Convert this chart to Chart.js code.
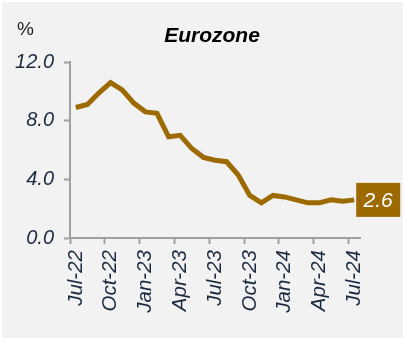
<!DOCTYPE html>
<html>
<head>
<meta charset="utf-8">
<script src="https://cdn.jsdelivr.net/npm/chart.js@4/dist/chart.umd.min.js"></script>
<style>
    html, body { margin: 0; padding: 0; background: #ffffff; }
    .panel {
        position: absolute;
        left: 2px; top: 2px;
        width: 401px; height: 336px;
        background: #f2f2f2;
    }
    .wrap {
        position: absolute;
        left: 0; top: 0;
        width: 403px; height: 338px;
    }
</style>
</head>
<body>
<div class="panel"></div>
<div class="wrap"><canvas id="cpiChart" width="403" height="338"></canvas></div>
<script>
// Monthly headline inflation, y/y %
const months = [
    'Jul-22', 'Aug-22', 'Sep-22', 'Oct-22', 'Nov-22', 'Dec-22',
    'Jan-23', 'Feb-23', 'Mar-23', 'Apr-23', 'May-23', 'Jun-23',
    'Jul-23', 'Aug-23', 'Sep-23', 'Oct-23', 'Nov-23', 'Dec-23',
    'Jan-24', 'Feb-24', 'Mar-24', 'Apr-24', 'May-24', 'Jun-24', 'Jul-24'
];
const inflation = [
    8.9, 9.1, 9.9, 10.6, 10.1, 9.2,
    8.6, 8.5, 6.9, 7.0, 6.1, 5.5,
    5.3, 5.2, 4.3, 2.9, 2.4, 2.9,
    2.8, 2.6, 2.4, 2.4, 2.6, 2.5, 2.6
];
const yTicks = [0, 4, 8, 12];

const lineColor = '#9c6a00';
const axisColor = '#a0a0a0';
const labelColor = '#1c2a40';
const fontFamily = '"Liberation Sans", Arial, sans-serif';

// title, unit and the end-value tag
const decorations = {
    id: 'decorations',
    afterDatasetsDraw(chart) {
        const { ctx, chartArea } = chart;
        ctx.save();

        ctx.fillStyle = '#000000';
        ctx.font = 'italic bold 21px ' + fontFamily;
        ctx.textAlign = 'center';
        ctx.textBaseline = 'middle';
        ctx.fillText('Eurozone', (chartArea.left + chartArea.right) / 2 - 3, 36);

        ctx.fillStyle = '#222222';
        ctx.font = '19px ' + fontFamily;
        ctx.textAlign = 'left';
        ctx.fillText('%', 17, 30);

        const points = chart.getDatasetMeta(0).data;
        const last = points[points.length - 1];
        const value = inflation[inflation.length - 1];
        ctx.fillStyle = lineColor;
        ctx.fillRect(last.x + 2, last.y - 17, 44, 34);
        ctx.fillStyle = '#ffffff';
        ctx.font = 'italic 21px ' + fontFamily;
        ctx.textAlign = 'center';
        ctx.fillText(value.toFixed(1), last.x + 24, last.y + 1);

        ctx.restore();
    }
};

new Chart(document.getElementById('cpiChart'), {
    type: 'line',
    data: {
        labels: months,
        datasets: [{
            data: inflation,
            borderColor: lineColor,
            borderWidth: 5,
            pointRadius: 0,
            tension: 0,
            fill: false
        }]
    },
    options: {
        responsive: false,
        animation: false,
        layout: { padding: { top: 62, right: 43, left: 0, bottom: 0 } },
        plugins: {
            legend: { display: false },
            tooltip: { enabled: false }
        },
        scales: {
            x: {
                type: 'category',
                offset: true,
                afterFit: (scale) => { scale.height = 100; },
                border: { color: axisColor, width: 2 },
                grid: {
                    offset: true,
                    drawOnChartArea: false,
                    tickLength: 6,
                    tickWidth: 2,
                    tickColor: (c) => (c.index % 3 === 0 ? axisColor : 'rgba(0,0,0,0)')
                },
                ticks: {
                    autoSkip: false,
                    minRotation: 90,
                    maxRotation: 90,
                    padding: 6,
                    color: labelColor,
                    font: { family: fontFamily, size: 20.5, style: 'italic' },
                    callback: (v, i) => (i % 3 === 0 ? months[i] : '')
                }
            },
            y: {
                min: 0,
                max: 12,
                afterFit: (scale) => { scale.width = 70; },
                afterBuildTicks: (scale) => { scale.ticks = yTicks.map(v => ({ value: v })); },
                border: { color: axisColor, width: 2 },
                grid: {
                    drawOnChartArea: false,
                    tickLength: 6,
                    tickWidth: 2,
                    tickColor: axisColor
                },
                ticks: {
                    padding: 10,
                    color: labelColor,
                    font: { family: fontFamily, size: 20, style: 'italic' },
                    callback: (v) => Number(v).toFixed(1)
                }
            }
        }
    },
    plugins: [decorations]
});
</script>
</body>
</html>
